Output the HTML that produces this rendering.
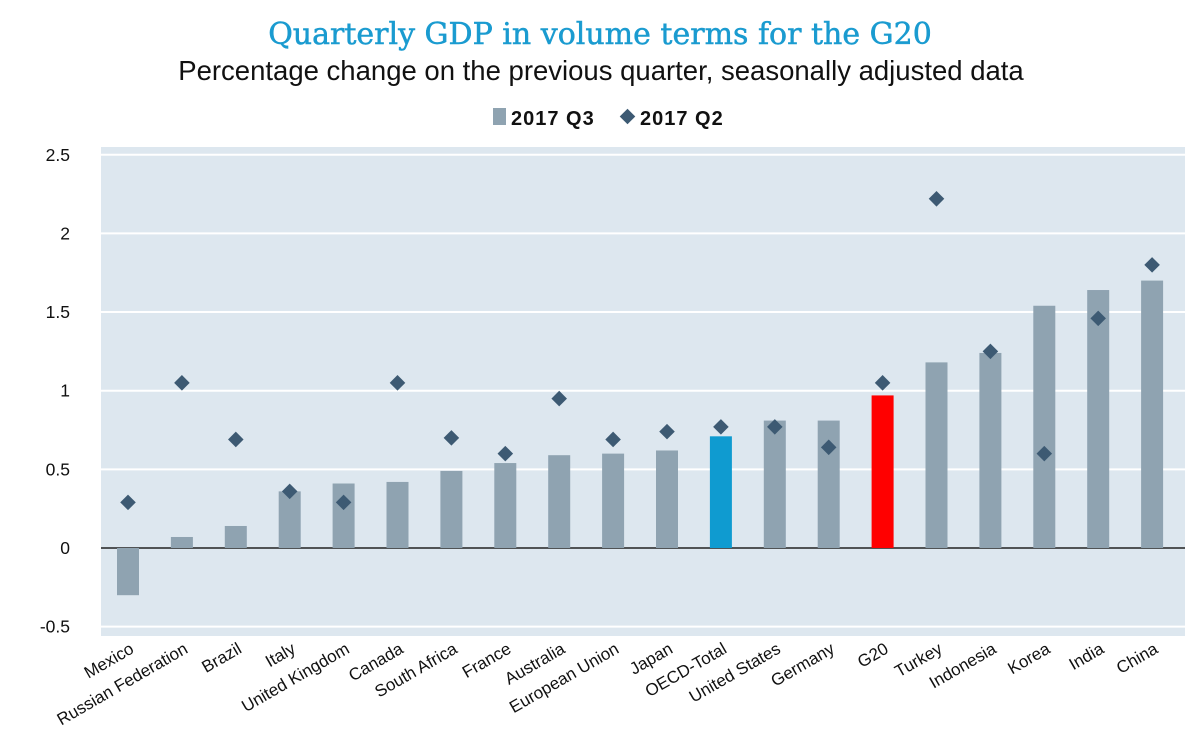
<!DOCTYPE html>
<html><head><meta charset="utf-8"><style>
body{margin:0;background:#fff;width:1200px;height:746px;overflow:hidden;font-family:"Liberation Sans",sans-serif}
</style></head><body>
<svg width="1200" height="746">
<text x="600" y="44" text-anchor="middle" font-family="DejaVu Serif, serif" font-size="30" stroke="#1a9bd0" stroke-width="0.5" fill="#1a9bd0">Quarterly  GDP in volume terms for the G20</text>
<text x="601" y="80" text-anchor="middle" font-size="27.5" fill="#111">Percentage change on the previous quarter, seasonally adjusted data</text>
<g>
<rect x="493" y="108" width="13" height="17" fill="#8fa3b1"/>
<text x="511" y="125" font-size="20" font-weight="bold" letter-spacing="1" fill="#111">2017 Q3</text>
<rect x="622" y="111" width="11" height="11" fill="#3d5a73" transform="rotate(45 627.5 116.5)"/>
<text x="640" y="125" font-size="20" font-weight="bold" letter-spacing="1" fill="#111">2017 Q2</text>
</g>
<rect x="101" y="147" width="1084" height="489" fill="#dde7ef"/>
<g id="grid"></g><g id="bars"></g><g id="pts"></g><g id="labels"></g>
</svg>
<script>
const categories=["Mexico","Russian Federation","Brazil","Italy","United Kingdom","Canada","South Africa","France","Australia","European Union","Japan","OECD-Total","United States","Germany","G20","Turkey","Indonesia","Korea","India","China"];
const q3=[-0.30,0.07,0.14,0.36,0.41,0.42,0.49,0.54,0.59,0.60,0.62,0.71,0.81,0.81,0.97,1.18,1.24,1.54,1.64,1.70];
const q2=[0.29,1.05,0.69,0.36,0.29,1.05,0.70,0.60,0.95,0.69,0.74,0.77,0.77,0.64,1.05,2.22,1.25,0.60,1.46,1.80];
const ticks=[-0.5,0,0.5,1,1.5,2,2.5];
const NS="http://www.w3.org/2000/svg";
const y=v=>548-v*157.3;
const x=i=>128+i*53.9;
function mk(t,a,p){const e=document.createElementNS(NS,t);for(const k in a)e.setAttribute(k,a[k]);document.getElementById(p).appendChild(e);return e;}
ticks.forEach(t=>{
 const l=mk('line',{x1:101,x2:1185,y1:y(t),y2:y(t),stroke:t===0?'#222':'#fff','stroke-width':t===0?1.5:2},'grid');
 
 
 const tx=mk('text',{x:70,y:y(t)+6,'text-anchor':'end','font-size':17.5,fill:'#111'},'grid');
 tx.textContent=String(t);
 
 
});
categories.forEach((c,i)=>{
 const v=q3[i];
 const col=c==="OECD-Total"?'#0f9bd0':c==="G20"?'#ff0000':'#8fa3b1';
 const b=mk('rect',{x:x(i)-11,width:22,y:Math.min(y(v),y(0)),height:Math.abs(y(v)-y(0)),fill:col},'bars');
 
 
 const d=mk('rect',{x:x(i)-5.5,y:y(q2[i])-5.5,width:11,height:11,fill:'#3d5a73',transform:`rotate(45 ${x(i)} ${y(q2[i])})`},'pts');
 
 
 const lx=x(i)+7, ly=652;
 const t=mk('text',{x:lx,y:ly,'text-anchor':'end','font-size':17,fill:'#111',transform:`rotate(-30 ${lx} ${ly})`},'labels');
 t.textContent=c;
 
 
});
</script>
</body></html>
